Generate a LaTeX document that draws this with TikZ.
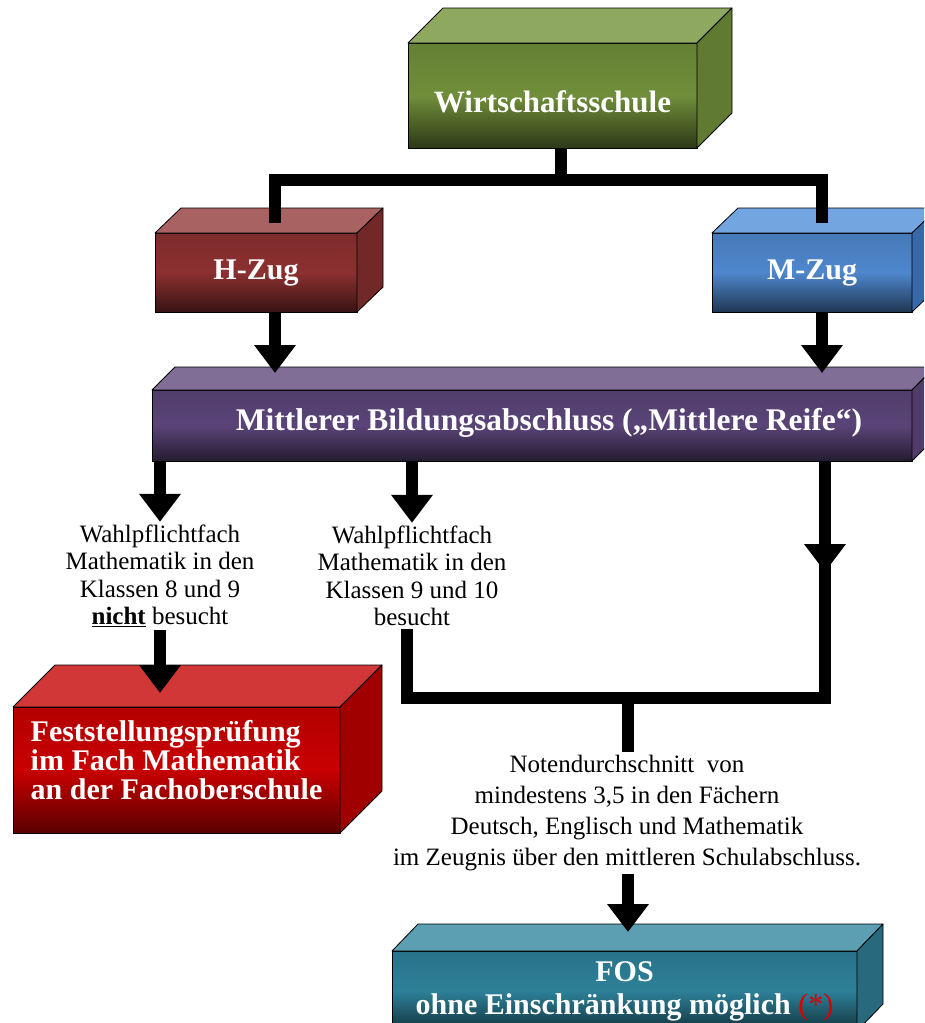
\documentclass[tikz,border=0pt]{standalone}
\usepackage{fontspec}
\setmainfont{Liberation Serif}
\usetikzlibrary{arrows.meta}
\definecolor{wsF}{RGB}{112,142,58}
\definecolor{wsT}{RGB}{142,168,96}
\definecolor{wsS}{RGB}{96,122,50}
\definecolor{hzF}{RGB}{140,48,48}
\definecolor{hzT}{RGB}{168,98,98}
\definecolor{hzS}{RGB}{115,40,40}
\definecolor{mzF}{RGB}{78,135,205}
\definecolor{mzT}{RGB}{115,165,225}
\definecolor{mzS}{RGB}{55,105,170}
\definecolor{mrF}{RGB}{90,68,120}
\definecolor{mrT}{RGB}{128,110,150}
\definecolor{mrS}{RGB}{80,60,105}
\definecolor{fpF}{RGB}{200,0,0}
\definecolor{fpT}{RGB}{210,55,55}
\definecolor{fpS}{RGB}{160,0,0}
\definecolor{foF}{RGB}{45,128,152}
\definecolor{foT}{RGB}{92,158,178}
\definecolor{foS}{RGB}{40,105,125}

\begin{document}
\begin{tikzpicture}[x=1pt,y=-1pt]
\tikzstyle{every node}+=[inner sep=0pt, outer sep=0pt]
\tikzstyle{face}=[draw=black, line width=0.8pt, line join=round]
\tikzstyle{front}=[face, text=white, font=\bfseries\fontsize{30}{31}\selectfont]
\tikzstyle{title}=[text height=20pt, text depth=6pt]
\tikzstyle{conn}=[line width=12pt, black, line join=miter]
\tikzstyle{tip}=[-{Triangle[width=40pt,length=28pt]}]
\tikzstyle{note}=[align=center, inner sep=3pt, font=\fontsize{25}{27.5}\selectfont]
\useasboundingbox (0,0) rectangle (924,1023);
\clip (0,0) rectangle (924,1023);
\fill[white] (0,0) rectangle (924,1023);
\node[front, title, top color=wsF!90!black, bottom color=wsF!40!black, middle color=wsF, minimum width=289pt, minimum height=105pt, text height=34pt, text depth=0pt, font=\bfseries\fontsize{31}{32}\selectfont] (ws) at (552.5,95.5) {Wirtschaftsschule};
\filldraw[face, fill=wsT] (ws.north west) -- ++(35,-35) -- ++(289,0) -- (ws.north east) -- cycle;
\filldraw[face, fill=wsS] (ws.north east) -- ++(35,-35) -- ++(0,105) -- (ws.south east) -- cycle;
\node[front, title, top color=hzF!90!black, bottom color=hzF!40!black, middle color=hzF, minimum width=202pt, minimum height=79pt] (hz) at (256,272.5) {H-Zug};
\filldraw[face, fill=hzT] (hz.north west) -- ++(26,-25) -- ++(202,0) -- (hz.north east) -- cycle;
\filldraw[face, fill=hzS] (hz.north east) -- ++(26,-25) -- ++(0,79) -- (hz.south east) -- cycle;
\node[front, title, top color=mzF!90!black, bottom color=mzF!40!black, middle color=mzF, minimum width=200pt, minimum height=79pt] (mz) at (812,272.5) {M-Zug};
\filldraw[face, fill=mzT] (mz.north west) -- ++(26,-25) -- ++(200,0) -- (mz.north east) -- cycle;
\filldraw[face, fill=mzS] (mz.north east) -- ++(26,-25) -- ++(0,79) -- (mz.south east) -- cycle;
\node[front, top color=mrF!90!black, bottom color=mrF!40!black, middle color=mrF, minimum width=760pt, minimum height=71pt, text height=21pt, text depth=11pt, font=\bfseries\fontsize{31.5}{32}\selectfont] (mr) at (532,425.5) {\hspace*{34pt}Mittlerer Bildungsabschluss („Mittlere Reife“)};
\filldraw[face, fill=mrT] (mr.north west) -- ++(23,-23) -- ++(760,0) -- (mr.north east) -- cycle;
\filldraw[face, fill=mrS] (mr.north east) -- ++(23,-23) -- ++(0,71) -- (mr.south east) -- cycle;
\node[front, top color=fpF!90!black, bottom color=fpF!45!black, middle color=fpF, minimum width=327pt, minimum height=126pt, align=left, text depth=20pt, font=\bfseries\fontsize{30}{29}\selectfont] (fp) at (176.5,770) {Feststellungsprüfung\\im Fach Mathematik\\an der Fachoberschule};
\filldraw[face, fill=fpT] (fp.north west) -- ++(42,-42) -- ++(327,0) -- (fp.north east) -- cycle;
\filldraw[face, fill=fpS] (fp.north east) -- ++(42,-42) -- ++(0,126) -- (fp.south east) -- cycle;
\node[front, top color=foF!90!black, bottom color=foF!40!black, middle color=foF, minimum width=465pt, minimum height=80pt, align=center, font=\bfseries\fontsize{30}{33}\selectfont] (fos) at (624.5,991) {FOS\\ohne Einschränkung möglich \textcolor{red!85!black}{\mdseries(*)}};
\filldraw[face, fill=foT] (fos.north west) -- ++(26,-27) -- ++(465,0) -- (fos.north east) -- cycle;
\filldraw[face, fill=foS] (fos.north east) -- ++(26,-27) -- ++(0,80) -- (fos.south east) -- cycle;
\node[note] (txtA) at (160,576) {Wahlpflichtfach\\Mathematik in den\\Klassen 8 und 9\\\underline{\textbf{nicht}} besucht};
\node[note] (txtB) at (412,576) {Wahlpflichtfach\\Mathematik in den\\Klassen 9 und 10\\besucht};
\node[note, font=\fontsize{25}{31}\selectfont] (noten) at (627,813) {Notendurchschnitt\ \ von\\mindestens 3,5 in den Fächern\\Deutsch, Englisch und Mathematik\\im Zeugnis über den mittleren Schulabschluss.};
\coordinate (wj) at (561,180);
\coordinate (hj) at (275,180);
\coordinate (mj) at (822,180);
\coordinate (rm) at (825,572);
\coordinate (rc) at (825,698);
\coordinate (lc) at (407,698);
\coordinate (nj) at (628,698);
\draw[conn] (ws.south -| wj) -- (wj);
\draw[conn, shorten <=10pt, shorten >=10pt] (hj |- hz.north) -- (hj) -- (mj) -- (mj |- mz.north);
\draw[conn, tip, shorten >=17pt] (hz.south -| hj) -- (mr.north -| hj);
\draw[conn, tip, shorten >=17pt] (mz.south -| mj) -- (mr.north -| mj);
\draw[conn, tip] (mr.south -| txtA.north) -- (txtA.north);
\draw[conn, tip] (mr.south -| txtB.north) -- (txtB.north);
\draw[conn, tip, shorten >=14pt] (txtA.south) -- (txtA.south |- fp.north);
\draw[conn] (mr.south -| rc) -- (rc) -- (lc) -- (lc |- txtB.south);
\draw[conn, tip] (mr.south -| rm) -- (rm);
\draw[conn] (nj) -- (nj |- noten.north);
\draw[conn, tip, shorten >=19pt] (noten.south -| nj) -- (nj |- fos.north);
\end{tikzpicture}
\end{document}
